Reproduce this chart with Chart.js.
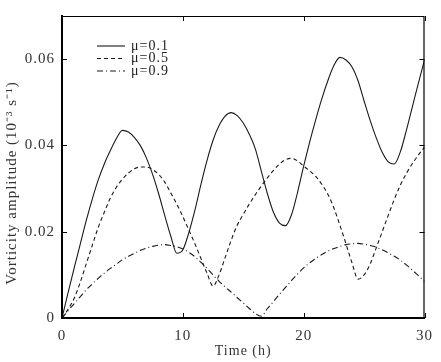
<!DOCTYPE html>
<html><head><meta charset="utf-8">
<script src="https://cdn.jsdelivr.net/npm/chart.js@4.4.0/dist/chart.umd.min.js"></script>
<style>html,body{margin:0;padding:0;background:#fff;}</style>
</head><body>
<canvas id="c" width="441" height="362"></canvas>
<script>
const seriesLabels = ['μ=0.1', 'μ=0.5', 'μ=0.9'];

const hours = [0,0.5,1,1.5,2,2.5,3,3.5,4,4.5,5,5.5,6,6.5,7,7.5,8,8.5,9,9.5,10,10.5,11,11.5,12,12.5,13,13.5,14,14.5,15,
               15.5,16,16.5,17,17.5,18,18.5,19,19.5,20,20.5,21,21.5,22,22.5,23,23.5,24,24.5,25,25.5,26,26.5,27,27.5,28,28.5,29,29.5,30];
const ampMu01 = [0,0.0058,0.0115,0.017,0.0225,0.0275,0.032,0.0357,0.0388,0.0416,0.0435,0.0431,0.0418,0.0399,0.037,0.0333,0.0288,0.0238,0.019,0.015,0.0158,0.0198,0.025,0.031,0.0365,0.0412,0.0446,0.0468,0.0476,0.0469,0.0452,
                 0.0426,0.0392,0.034,0.0288,0.0245,0.022,0.0214,0.024,0.0292,0.0352,0.0408,0.046,0.0508,0.055,0.0585,0.0604,0.0598,0.0582,0.055,0.0503,0.0458,0.0418,0.0384,0.0362,0.0357,0.0385,0.0435,0.049,0.0545,0.0598];
const ampMu05 = [0,0.002,0.0045,0.0082,0.0125,0.0168,0.021,0.0245,0.0278,0.0303,0.0322,0.0336,0.0346,0.035,0.035,0.0344,0.0333,0.0315,0.029,0.0264,0.0235,0.0204,0.0172,0.0138,0.0104,0.0074,0.01,0.014,0.018,0.0215,0.024,
                 0.0264,0.0286,0.0306,0.0325,0.0342,0.0357,0.0367,0.037,0.0364,0.0352,0.0341,0.0328,0.031,0.0287,0.0255,0.0215,0.0172,0.0128,0.009,0.01,0.0125,0.0162,0.02,0.0238,0.0275,0.0308,0.0335,0.0358,0.0378,0.0396];
const ampMu09 = [0,0.0017,0.0033,0.0049,0.0065,0.0079,0.0092,0.0104,0.0115,0.0125,0.0135,0.0143,0.015,0.0157,0.0162,0.0166,0.0169,0.017,0.0168,0.0165,0.016,0.0152,0.0142,0.0129,0.0115,0.01,0.0085,0.0072,0.006,0.0047,0.0035,
                 0.0022,0.001,0.0004,0.0022,0.0038,0.0055,0.0071,0.0087,0.0102,0.0116,0.0128,0.0138,0.0147,0.0155,0.0161,0.0166,0.017,0.0172,0.0173,0.0171,0.0168,0.0164,0.0158,0.0151,0.0143,0.0134,0.0123,0.0111,0.0098,0.0085];

const xTicks = [0, 10, 20, 30];
const xTickLabels = ['0', '10', '20', '30'];
const yTicks = [0, 0.02, 0.04, 0.06];
const yTickLabels = ['0', '0.02', '0.04', '0.06'];
const xTitle = 'Time (h)';
const yTitle = 'Vorticity amplitude (10⁻³ s⁻¹)';

const FONT = "'Liberation Serif', 'Times New Roman', serif";
const INK = '#1a1a1a';
const dashes = [[], [4, 3], [6, 3, 1, 3]];

function pts(t, v) { return t.map((x, i) => ({ x: x, y: v[i] })); }

const datasets = [ampMu01, ampMu05, ampMu09].map((s, i) => ({
  label: seriesLabels[i],
  data: pts(hours, s),
  borderColor: INK,
  borderWidth: 1.1,
  borderDash: dashes[i],
  pointRadius: 0,
  fill: false,
  cubicInterpolationMode: 'monotone'
}));

const spacing = {
  id: 'spacing',
  beforeInit(chart) { chart.ctx.letterSpacing = '1px'; },
  beforeDraw(chart) { chart.ctx.letterSpacing = '1px'; }
};

const frame = {
  id: 'frame',
  afterDraw(chart) {
    const { ctx, chartArea: a, scales: { x, y } } = chart;
    ctx.save();
    ctx.letterSpacing = '1px';
    ctx.strokeStyle = '#000';
    ctx.lineWidth = 1.2;
    ctx.setLineDash([]);
    ctx.beginPath();
    ctx.moveTo(a.left, a.top + 0.5); ctx.lineTo(a.right, a.top + 0.5);
    ctx.moveTo(a.right - 0.5, a.top); ctx.lineTo(a.right - 0.5, a.bottom);
    ctx.stroke();
    ctx.lineWidth = 1;
    ctx.beginPath();
    xTicks.forEach(v => {
      const px = Math.round(x.getPixelForValue(v)) + 0.5;
      ctx.moveTo(px, a.bottom); ctx.lineTo(px, a.bottom - 5);
      ctx.moveTo(px, a.top); ctx.lineTo(px, a.top + 5);
    });
    yTicks.forEach(v => {
      const py = Math.round(y.getPixelForValue(v)) + 0.5;
      ctx.moveTo(a.left, py); ctx.lineTo(a.left + 5, py);
      ctx.moveTo(a.right, py); ctx.lineTo(a.right - 5, py);
    });
    ctx.stroke();

    // legend
    ctx.font = '14px ' + FONT;
    ctx.fillStyle = '#222';
    ctx.textBaseline = 'middle';
    ctx.textAlign = 'left';
    const ly = [46, 58.5, 71];
    seriesLabels.forEach((lab, i) => {
      ctx.beginPath();
      ctx.strokeStyle = INK;
      ctx.lineWidth = 1.1;
      ctx.setLineDash(dashes[i]);
      ctx.moveTo(97, ly[i]); ctx.lineTo(125, ly[i]);
      ctx.stroke();
      ctx.setLineDash([]);
      ctx.fillText(lab, 131, ly[i]);
    });

    // axis titles
    ctx.fillStyle = '#333';
    ctx.textAlign = 'center';
    ctx.fillText(xTitle, (a.left + a.right) / 2, 351);
    ctx.font = '15px ' + FONT;
    ctx.translate(12, 183);
    ctx.rotate(-Math.PI / 2);
    ctx.fillText(yTitle, 0, 0);
    ctx.restore();
  }
};

new Chart(document.getElementById('c'), {
  type: 'line',
  data: { datasets: datasets },
  options: {
    responsive: false,
    animation: false,
    devicePixelRatio: 1,
    layout: { padding: { top: 8, right: 15, left: 0, bottom: 0 } },
    plugins: { legend: { display: false }, tooltip: { enabled: false } },
    scales: {
      x: {
        type: 'linear', min: 0, max: 30,
        afterBuildTicks: s => { s.ticks = xTicks.map(v => ({ value: v })); },
        afterFit: s => { s.height = 44; },
        grid: { display: false, drawTicks: false },
        border: { display: true, width: 2, color: '#000' },
        ticks: {
          padding: 9, color: '#333', font: { family: FONT, size: 15 }, maxRotation: 0,
          callback: (v) => xTickLabels[xTicks.indexOf(v)]
        }
      },
      y: {
        type: 'linear', min: 0, max: 0.07,
        afterBuildTicks: s => { s.ticks = yTicks.map(v => ({ value: v })); },
        afterFit: s => { s.width = 62; },
        grid: { display: false, drawTicks: false },
        border: { display: true, width: 2, color: '#000' },
        ticks: {
          padding: 7, color: '#333', font: { family: FONT, size: 15 },
          callback: (v) => yTickLabels[yTicks.indexOf(v)]
        }
      }
    }
  },
  plugins: [spacing, frame]
});
</script>
</body></html>
